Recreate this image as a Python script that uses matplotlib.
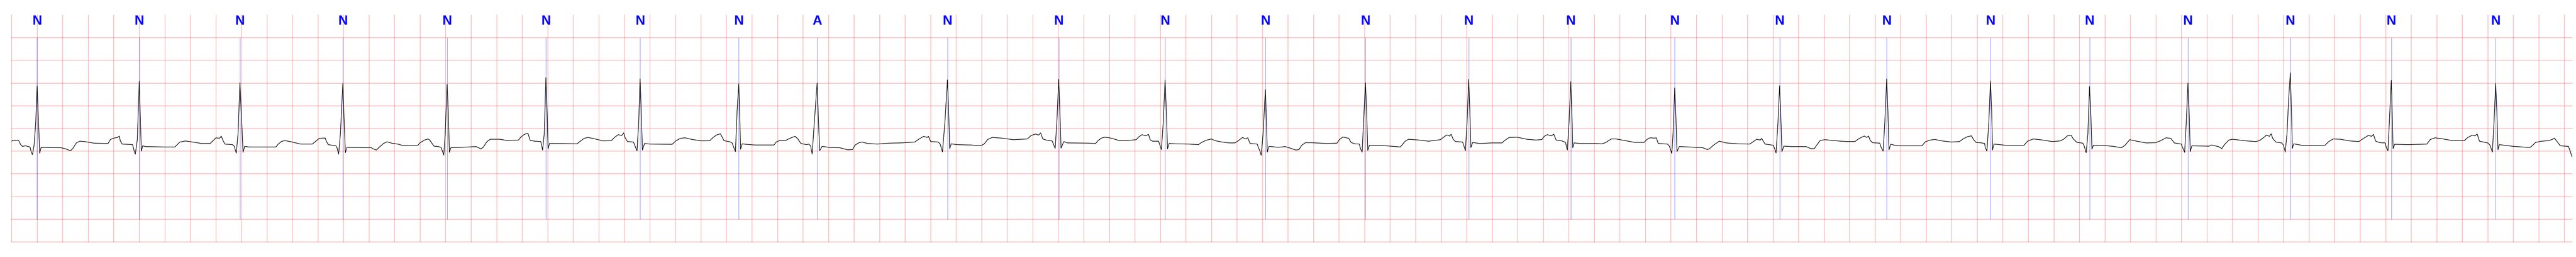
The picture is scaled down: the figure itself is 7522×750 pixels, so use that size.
import numpy as np
import matplotlib
matplotlib.use("Agg")
import matplotlib.pyplot as plt

# ---- data (time in s, amplitude in mV) ----
ecg_trace = [
    (0.000,-0.280),(0.009,-0.255),(0.028,-0.268),(0.046,-0.255),(0.055,-0.268),(0.070,-0.356),(0.083,-0.394),(0.110,-0.381),(0.129,-0.399),(0.143,-0.407),(0.153,-0.520),(0.162,-0.576),(0.175,-0.369),(0.188,0.136),(0.199,0.939),(0.208,0.263),(0.219,-0.545),(0.230,-0.414),(0.276,-0.419),(0.386,-0.424),(0.423,-0.449),(0.460,-0.490),(0.478,-0.444),(0.506,-0.318),(0.533,-0.280),(0.570,-0.288),(0.644,-0.323),(0.754,-0.331),(0.773,-0.242),(0.800,-0.212),(0.828,-0.197),(0.843,-0.167),(0.850,-0.268),(0.865,-0.343),(0.901,-0.348),(0.947,-0.356),(0.957,-0.470),(0.968,-0.566),(0.984,-0.242),(0.999,1.040),(1.006,0.389),(1.015,-0.500),(1.026,-0.381),(1.049,-0.399),(1.196,-0.407),(1.278,-0.407),(1.297,-0.356),(1.315,-0.301),(1.361,-0.275),(1.416,-0.298),(1.490,-0.331),(1.554,-0.331),(1.582,-0.255),(1.600,-0.205),(1.628,-0.217),(1.641,-0.167),(1.656,-0.268),(1.670,-0.343),(1.729,-0.356),(1.744,-0.394),(1.759,-0.545),(1.773,-0.116),(1.788,1.008),(1.799,0.338),(1.812,-0.525),(1.825,-0.394),(1.858,-0.407),(2.070,-0.407),(2.088,-0.343),(2.116,-0.280),(2.143,-0.268),(2.189,-0.293),(2.263,-0.343),(2.355,-0.343),(2.382,-0.280),(2.410,-0.217),(2.456,-0.210),(2.465,-0.280),(2.480,-0.356),(2.539,-0.381),(2.548,-0.419),(2.561,-0.566),(2.575,-0.116),(2.594,0.990),(2.603,0.263),(2.614,-0.533),(2.627,-0.414),(2.667,-0.419),(2.792,-0.424),
    (2.811,-0.414),(2.829,-0.444),(2.857,-0.475),(2.875,-0.424),(2.912,-0.331),(2.940,-0.293),(2.977,-0.323),(3.032,-0.348),(3.069,-0.381),(3.105,-0.369),(3.183,-0.369),(3.197,-0.318),(3.234,-0.255),(3.262,-0.230),(3.275,-0.255),(3.293,-0.331),(3.308,-0.389),(3.344,-0.399),(3.363,-0.414),(3.374,-0.495),(3.385,-0.586),(3.396,-0.116),(3.411,0.970),(3.420,0.389),(3.429,-0.525),(3.440,-0.424),(3.528,-0.414),(3.639,-0.399),(3.676,-0.449),(3.694,-0.414),(3.722,-0.293),(3.749,-0.237),(3.823,-0.237),(3.878,-0.263),(3.970,-0.255),(3.988,-0.192),(4.016,-0.129),(4.044,-0.104),(4.062,-0.263),(4.099,-0.280),(4.145,-0.288),(4.159,-0.475),(4.172,-0.116),(4.185,1.121),(4.194,0.389),(4.202,-0.449),(4.213,-0.331),(4.264,-0.331),(4.430,-0.338),(4.448,-0.293),(4.485,-0.217),(4.513,-0.197),(4.559,-0.222),(4.632,-0.273),(4.697,-0.268),(4.724,-0.192),(4.752,-0.136),(4.779,-0.154),(4.794,-0.096),(4.807,-0.212),(4.825,-0.288),(4.871,-0.298),(4.881,-0.369),(4.899,-0.495),(4.912,0.136),(4.923,1.096),(4.932,0.389),(4.941,-0.475),(4.958,-0.331),(5.000,-0.343),(5.175,-0.348),(5.202,-0.273),(5.239,-0.217),(5.276,-0.205),(5.331,-0.242),(5.405,-0.273),(5.469,-0.268),(5.497,-0.192),(5.524,-0.141),(5.552,-0.116),(5.561,-0.162),(5.580,-0.268),(5.626,-0.293),(5.644,-0.318),(5.657,-0.419),(5.670,-0.508),
    (5.683,0.389),(5.696,0.982),(5.703,0.389),(5.710,-0.457),(5.723,-0.338),(5.751,-0.348),(5.824,-0.364),(5.898,-0.364),(5.972,-0.364),(5.990,-0.298),(6.018,-0.263),(6.064,-0.263),(6.100,-0.212),(6.137,-0.172),(6.159,-0.230),(6.183,-0.331),(6.229,-0.356),(6.244,-0.343),(6.259,-0.381),(6.271,-0.561),(6.288,0.136),(6.310,1.003),(6.321,0.136),(6.330,-0.490),(6.349,-0.394),(6.413,-0.419),(6.487,-0.424),(6.551,-0.470),(6.588,-0.465),(6.606,-0.369),(6.634,-0.318),(6.661,-0.298),(6.707,-0.331),(6.781,-0.343),(6.873,-0.323),(6.965,-0.318),(7.075,-0.298),(7.103,-0.242),(7.145,-0.172),(7.171,-0.197),(7.182,-0.172),(7.200,-0.288),(7.259,-0.298),(7.274,-0.343),(7.292,-0.515),(7.311,0.136),(7.331,1.071),(7.340,0.389),(7.349,-0.444),(7.360,-0.338),(7.406,-0.356),(7.517,-0.364),(7.590,-0.381),(7.618,-0.343),(7.646,-0.242),(7.682,-0.197),(7.756,-0.212),(7.848,-0.247),(7.958,-0.230),(7.986,-0.154),(8.023,-0.121),(8.045,-0.146),(8.061,-0.096),(8.078,-0.230),(8.105,-0.255),(8.151,-0.273),(8.161,-0.343),(8.175,-0.439),(8.188,0.136),(8.203,1.083),(8.212,0.389),(8.221,-0.432),(8.243,-0.288),(8.271,-0.318),(8.437,-0.323),(8.492,-0.331),(8.510,-0.268),(8.538,-0.212),(8.562,-0.192),
    (8.599,-0.205),(8.635,-0.230),(8.672,-0.263),(8.746,-0.263),(8.810,-0.247),(8.829,-0.187),(8.856,-0.136),(8.884,-0.162),(8.906,-0.129),(8.921,-0.255),(8.939,-0.280),(8.985,-0.280),(8.996,-0.369),(9.007,-0.465),(9.022,0.136),(9.036,1.071),(9.046,0.389),(9.055,-0.449),(9.068,-0.331),(9.114,-0.338),(9.224,-0.343),(9.298,-0.356),(9.316,-0.318),(9.353,-0.263),(9.399,-0.230),(9.426,-0.268),(9.482,-0.298),(9.537,-0.318),(9.583,-0.318),(9.610,-0.268),(9.643,-0.197),(9.666,-0.230),(9.684,-0.205),(9.702,-0.331),(9.758,-0.343),(9.767,-0.419),(9.780,-0.500),(9.789,-0.591),(9.804,-0.116),(9.822,0.856),(9.829,0.263),(9.837,-0.520),(9.850,-0.394),(9.923,-0.414),(9.978,-0.399),(10.015,-0.432),(10.061,-0.475),(10.085,-0.465),(10.107,-0.369),(10.135,-0.313),(10.181,-0.313),(10.309,-0.331),(10.383,-0.323),(10.401,-0.247),(10.429,-0.187),(10.475,-0.217),(10.493,-0.306),(10.521,-0.338),(10.558,-0.343),(10.567,-0.444),(10.580,-0.520),(10.591,0.136),(10.606,1.008),(10.615,0.389),(10.624,-0.482),(10.637,-0.369),(10.769,-0.381),(10.843,-0.399),(10.880,-0.407),(10.917,-0.280),(10.944,-0.237),(11.027,-0.255),(11.100,-0.280),(11.193,-0.247),(11.220,-0.187),(11.244,-0.141),(11.266,-0.167),(11.277,-0.126),(11.294,-0.242),(11.312,-0.288),(11.367,-0.298),(11.376,-0.369),(11.389,-0.490),(11.402,0.136),(11.415,1.083),(11.424,0.389),(11.432,-0.419),(11.446,-0.308),
    (11.502,-0.331),(11.594,-0.318),(11.676,-0.318),(11.695,-0.268),(11.732,-0.197),(11.796,-0.192),(11.870,-0.237),(11.943,-0.255),(11.989,-0.242),(12.007,-0.172),(12.031,-0.136),(12.063,-0.162),(12.081,-0.124),(12.100,-0.255),(12.145,-0.273),(12.173,-0.306),(12.188,-0.475),(12.201,0.136),(12.215,1.033),(12.223,0.389),(12.230,-0.424),(12.241,-0.318),(12.293,-0.331),(12.403,-0.331),(12.458,-0.338),(12.486,-0.313),(12.532,-0.230),(12.569,-0.230),(12.642,-0.268),(12.716,-0.306),(12.789,-0.306),(12.811,-0.242),(12.835,-0.205),(12.872,-0.212),(12.885,-0.205),(12.900,-0.331),(12.973,-0.343),(12.988,-0.394),(13.006,-0.551),(13.016,-0.116),(13.029,0.894),(13.038,0.263),(13.047,-0.508),(13.065,-0.399),(13.139,-0.407),(13.249,-0.424),(13.286,-0.465),(13.304,-0.439),(13.332,-0.369),(13.378,-0.280),(13.433,-0.318),(13.525,-0.338),(13.617,-0.343),(13.645,-0.288),(13.672,-0.237),(13.700,-0.255),(13.709,-0.217),(13.737,-0.343),(13.801,-0.369),(13.812,-0.444),(13.823,-0.540),(13.838,0.136),(13.851,0.944),(13.860,0.263),(13.869,-0.508),(13.884,-0.389),(13.948,-0.399),(14.059,-0.399),(14.095,-0.444),(14.123,-0.444),(14.141,-0.369),(14.169,-0.263),(14.206,-0.247),(14.331,-0.280),
    (14.386,-0.288),(14.441,-0.288),(14.469,-0.230),(14.497,-0.187),(14.515,-0.167),(14.533,-0.197),(14.548,-0.167),(14.561,-0.263),(14.579,-0.313),(14.635,-0.323),(14.647,-0.419),(14.662,-0.500),(14.675,0.136),(14.690,1.096),(14.699,0.389),(14.708,-0.470),(14.721,-0.348),(14.773,-0.381),(14.883,-0.381),(14.966,-0.381),(14.993,-0.293),(15.030,-0.255),(15.067,-0.242),(15.122,-0.273),(15.196,-0.298),(15.260,-0.288),(15.288,-0.230),(15.324,-0.179),(15.354,-0.162),(15.370,-0.242),(15.389,-0.306),(15.435,-0.318),(15.457,-0.331),(15.462,-0.419),(15.475,-0.500),(15.490,0.136),(15.503,1.045),(15.512,0.389),(15.519,-0.475),(15.530,-0.343),(15.619,-0.369),(15.766,-0.369),(15.793,-0.280),(15.839,-0.230),(15.913,-0.255),(15.987,-0.288),(16.051,-0.273),(16.079,-0.230),(16.106,-0.162),(16.134,-0.146),(16.152,-0.230),(16.180,-0.306),(16.226,-0.323),(16.235,-0.369),(16.253,-0.533),(16.266,-0.116),(16.279,0.924),(16.288,0.389),(16.298,-0.457),(16.309,-0.369),(16.391,-0.374),(16.465,-0.394),(16.529,-0.424),(16.557,-0.369),(16.594,-0.247),(16.649,-0.280),(16.722,-0.318),(16.796,-0.313),(16.833,-0.273),(16.879,-0.205),(16.916,-0.217),(16.943,-0.318),(16.998,-0.343),(17.008,-0.419),(17.024,-0.525),(17.037,0.136),(17.050,1.000),(17.059,0.389),(17.068,-0.508),(17.081,-0.381),(17.215,-0.390),
    (17.234,-0.364),(17.261,-0.381),(17.289,-0.399),(17.316,-0.444),(17.325,-0.399),(17.344,-0.331),(17.371,-0.255),(17.399,-0.237),(17.454,-0.255),(17.509,-0.273),(17.582,-0.288),(17.610,-0.268),(17.647,-0.192),(17.665,-0.146),(17.689,-0.172),(17.702,-0.116),(17.714,-0.217),(17.738,-0.298),(17.784,-0.318),(17.799,-0.369),(17.812,-0.520),(17.826,-0.116),(17.839,0.641),(17.852,1.227),(17.861,0.389),(17.868,-0.439),(17.879,-0.338),(17.949,-0.374),(18.041,-0.374),(18.124,-0.369),(18.151,-0.293),(18.188,-0.230),(18.243,-0.237),(18.316,-0.273),(18.389,-0.288),(18.426,-0.217),(18.463,-0.154),(18.490,-0.172),(18.503,-0.129),(18.521,-0.280),(18.555,-0.313),(18.595,-0.318),(18.604,-0.419),(18.617,-0.490),(18.628,0.136),(18.643,1.063),(18.650,0.389),(18.657,-0.444),(18.670,-0.348),(18.775,-0.356),(18.922,-0.343),(18.949,-0.242),(18.986,-0.205),(19.050,-0.230),(19.123,-0.268),(19.215,-0.268),(19.243,-0.197),(19.279,-0.146),(19.298,-0.162),(19.316,-0.121),(19.334,-0.280),(19.399,-0.318),(19.417,-0.369),(19.435,-0.520),(19.448,0.136),(19.461,0.995),(19.470,0.389),(19.479,-0.465),(19.490,-0.356),(19.600,-0.394),(19.729,-0.419),(19.747,-0.381),(19.774,-0.306),(19.820,-0.280),(19.875,-0.268),(19.903,-0.242),(19.921,-0.212),(19.940,-0.280),(19.967,-0.381),(20.004,-0.389),(20.031,-0.394),(20.044,-0.495),(20.059,-0.621),
]

beat_times = [0.199, 0.999, 1.788, 2.594, 3.411, 4.185, 4.923, 5.696, 6.310,
              7.331, 8.203, 9.036, 9.822, 10.606, 11.415, 12.215, 13.029,
              13.851, 14.690, 15.503, 16.279, 17.050, 17.852, 18.643, 19.461]
beat_labels = ["N", "N", "N", "N", "N", "N", "N", "N", "A",
               "N", "N", "N", "N", "N", "N", "N", "N",
               "N", "N", "N", "N", "N", "N", "N", "N"]

duration_s = 20.06
x_grid_step = 0.2
y_limits = (-2.5, 2.5)
y_grid_step = 0.5
marker_span = (-2.0, 2.0)

# ---- figure ----
W, H, DPI = 7522, 750, 100
fig = plt.figure(figsize=(W / DPI, H / DPI), dpi=DPI, facecolor="white")
ax = fig.add_axes([34.3 / W, 1 - 706 / H, (7510.7 - 34.3) / W, (706 - 44) / H])
ax.set_xlim(0, duration_s)
ax.set_ylim(*y_limits)
ax.set_axis_off()

grid_kw = dict(color="red", alpha=0.27, lw=1.45, clip_on=False, zorder=1)
for xv in np.arange(0, duration_s, x_grid_step):
    ax.axvline(xv, **grid_kw)
for yv in np.arange(y_limits[0], y_limits[1] - 1e-9, y_grid_step):
    ax.axhline(yv, **grid_kw)

t = np.array([p[0] for p in ecg_trace])
v = np.array([p[1] for p in ecg_trace])

ax.vlines(beat_times, marker_span[0], marker_span[1], color="blue", alpha=0.55,
          lw=0.8, zorder=2)
ax.plot(t, v, color="black", lw=1.25, zorder=3, solid_joinstyle="round")

for bt, lab in zip(beat_times, beat_labels):
    ax.text(bt, y_limits[1], lab, ha="center", va="top", color="blue",
            fontsize=28, fontweight="bold",
            family=["Liberation Sans", "DejaVu Sans"], zorder=4)

fig.savefig("out.png", dpi=DPI, facecolor="white")
